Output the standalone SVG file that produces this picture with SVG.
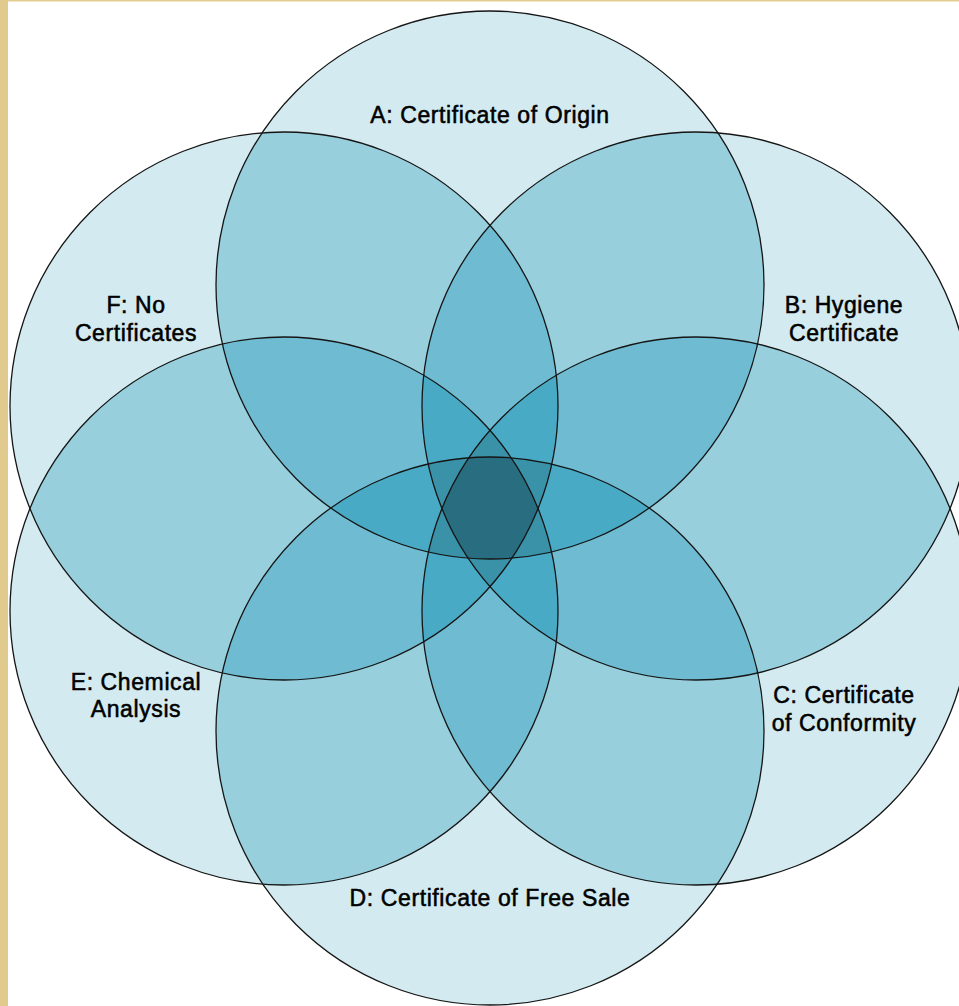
<svg xmlns="http://www.w3.org/2000/svg" xmlns:xlink="http://www.w3.org/1999/xlink" width="959" height="1006" viewBox="0 0 959 1006">
<style>
.outline{fill:none;stroke:#151515;stroke-width:1.3}
.lbl{font-family:"Liberation Sans",Arial,sans-serif;font-size:23px;letter-spacing:0.6px;fill:#000;stroke:#000;stroke-width:0.55px;text-anchor:middle}
.l1{fill:#D3EBF0}.l2{fill:#98CFDD}.l3{fill:#6FBCD2}.l4{fill:#49AAC5}.l5{fill:#3A92A8}.l6{fill:#296E80}
</style>
<defs>
<circle id="s0" cx="490" cy="285" r="274"/>
<circle id="s1" cx="696" cy="406" r="274"/>
<circle id="s2" cx="696" cy="611" r="274"/>
<circle id="s3" cx="490" cy="731" r="274"/>
<circle id="s4" cx="284" cy="611" r="274"/>
<circle id="s5" cx="284" cy="406" r="274"/>
<clipPath id="k0"><use xlink:href="#s0"/></clipPath>
<clipPath id="k1"><use xlink:href="#s1"/></clipPath>
<clipPath id="k2"><use xlink:href="#s2"/></clipPath>
<clipPath id="k3"><use xlink:href="#s3"/></clipPath>
<clipPath id="k4"><use xlink:href="#s4"/></clipPath>
<clipPath id="u1"><use xlink:href="#s1"/><use xlink:href="#s2"/><use xlink:href="#s3"/><use xlink:href="#s4"/><use xlink:href="#s5"/></clipPath>
<clipPath id="u2"><use xlink:href="#s2"/><use xlink:href="#s3"/><use xlink:href="#s4"/><use xlink:href="#s5"/></clipPath>
<clipPath id="u3"><use xlink:href="#s3"/><use xlink:href="#s4"/><use xlink:href="#s5"/></clipPath>
<clipPath id="u4"><use xlink:href="#s4"/><use xlink:href="#s5"/></clipPath>
<clipPath id="u5"><use xlink:href="#s5"/></clipPath>
</defs>
<rect x="0" y="0" width="959" height="1006" fill="#fff"/>
<rect x="0" y="0" width="959" height="1.5" fill="#E2CC90"/>
<rect x="0" y="0" width="8" height="1006" fill="#E1CA8D"/>
<g id="fills">
 <g class="l1"><use xlink:href="#s0"/><use xlink:href="#s1"/><use xlink:href="#s2"/><use xlink:href="#s3"/><use xlink:href="#s4"/><use xlink:href="#s5"/></g>
 <g class="l2">
  <g clip-path="url(#u1)"><use xlink:href="#s0"/></g>
  <g clip-path="url(#u2)"><use xlink:href="#s1"/></g>
  <g clip-path="url(#u3)"><use xlink:href="#s2"/></g>
  <g clip-path="url(#u4)"><use xlink:href="#s3"/></g>
  <g clip-path="url(#u5)"><use xlink:href="#s4"/></g>
 </g>
 <g class="l3">
  <g clip-path="url(#k0)">
   <g clip-path="url(#u2)"><use xlink:href="#s1"/></g>
   <g clip-path="url(#u3)"><use xlink:href="#s2"/></g>
   <g clip-path="url(#u4)"><use xlink:href="#s3"/></g>
   <g clip-path="url(#u5)"><use xlink:href="#s4"/></g>
  </g>
  <g clip-path="url(#k1)">
   <g clip-path="url(#u3)"><use xlink:href="#s2"/></g>
   <g clip-path="url(#u4)"><use xlink:href="#s3"/></g>
   <g clip-path="url(#u5)"><use xlink:href="#s4"/></g>
  </g>
  <g clip-path="url(#k2)">
   <g clip-path="url(#u4)"><use xlink:href="#s3"/></g>
   <g clip-path="url(#u5)"><use xlink:href="#s4"/></g>
  </g>
  <g clip-path="url(#k3)">
   <g clip-path="url(#u5)"><use xlink:href="#s4"/></g>
  </g>
 </g>
 <g class="l4">
  <g clip-path="url(#k0)">
   <g clip-path="url(#k1)">
    <g clip-path="url(#u3)"><use xlink:href="#s2"/></g>
    <g clip-path="url(#u4)"><use xlink:href="#s3"/></g>
    <g clip-path="url(#u5)"><use xlink:href="#s4"/></g>
   </g>
   <g clip-path="url(#k2)">
    <g clip-path="url(#u4)"><use xlink:href="#s3"/></g>
    <g clip-path="url(#u5)"><use xlink:href="#s4"/></g>
   </g>
   <g clip-path="url(#k3)">
    <g clip-path="url(#u5)"><use xlink:href="#s4"/></g>
   </g>
  </g>
  <g clip-path="url(#k1)">
   <g clip-path="url(#k2)">
    <g clip-path="url(#u4)"><use xlink:href="#s3"/></g>
    <g clip-path="url(#u5)"><use xlink:href="#s4"/></g>
   </g>
   <g clip-path="url(#k3)">
    <g clip-path="url(#u5)"><use xlink:href="#s4"/></g>
   </g>
  </g>
  <g clip-path="url(#k2)">
   <g clip-path="url(#k3)">
    <g clip-path="url(#u5)"><use xlink:href="#s4"/></g>
   </g>
  </g>
 </g>
 <g class="l5">
  <g clip-path="url(#k0)">
   <g clip-path="url(#k1)">
    <g clip-path="url(#k2)">
     <g clip-path="url(#u4)"><use xlink:href="#s3"/></g>
     <g clip-path="url(#u5)"><use xlink:href="#s4"/></g>
    </g>
    <g clip-path="url(#k3)">
     <g clip-path="url(#u5)"><use xlink:href="#s4"/></g>
    </g>
   </g>
   <g clip-path="url(#k2)">
    <g clip-path="url(#k3)">
     <g clip-path="url(#u5)"><use xlink:href="#s4"/></g>
    </g>
   </g>
  </g>
  <g clip-path="url(#k1)">
   <g clip-path="url(#k2)">
    <g clip-path="url(#k3)">
     <g clip-path="url(#u5)"><use xlink:href="#s4"/></g>
    </g>
   </g>
  </g>
 </g>
 <g class="l6">
  <g clip-path="url(#k0)"><g clip-path="url(#k1)"><g clip-path="url(#k2)"><g clip-path="url(#k3)"><g clip-path="url(#k4)"><use xlink:href="#s5"/></g></g></g></g></g>
 </g>
</g>
<g id="node-A"><use xlink:href="#s0" class="outline"/><text class="lbl" x="490" y="123">A: Certificate of Origin</text></g>
<g id="node-B"><use xlink:href="#s1" class="outline"/><text class="lbl" x="844" y="313">B: Hygiene</text><text class="lbl" x="844" y="341">Certificate</text></g>
<g id="node-C"><use xlink:href="#s2" class="outline"/><text class="lbl" x="844" y="703">C: Certificate</text><text class="lbl" x="844" y="731">of Conformity</text></g>
<g id="node-D"><use xlink:href="#s3" class="outline"/><text class="lbl" x="490" y="906">D: Certificate of Free Sale</text></g>
<g id="node-E"><use xlink:href="#s4" class="outline"/><text class="lbl" x="136" y="690">E: Chemical</text><text class="lbl" x="136" y="717">Analysis</text></g>
<g id="node-F"><use xlink:href="#s5" class="outline"/><text class="lbl" x="136" y="313">F: No</text><text class="lbl" x="136" y="341">Certificates</text></g>
<g id="connectors"/>
</svg>
